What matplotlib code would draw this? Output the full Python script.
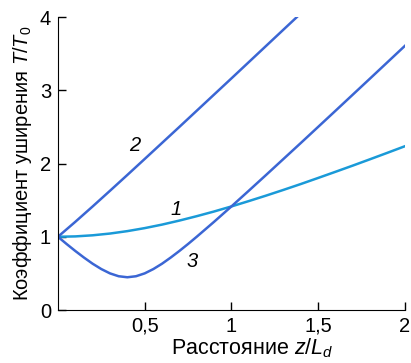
import matplotlib
matplotlib.use("Agg")
import matplotlib.pyplot as plt

plt.rcParams["font.family"] = ["Liberation Sans", "DejaVu Sans"]
plt.rcParams["mathtext.fontset"] = "custom"
plt.rcParams["mathtext.rm"] = "Liberation Sans"
plt.rcParams["mathtext.it"] = "Liberation Sans:italic"

# curve 1: no chirp
z1 = [0, 0.1, 0.2, 0.3, 0.4, 0.5, 0.6, 0.7, 0.8, 0.9, 1.0,
      1.1, 1.2, 1.3, 1.4, 1.5, 1.6, 1.7, 1.8, 1.9, 2.0]
t1 = [1.0, 1.005, 1.02, 1.044, 1.077, 1.118, 1.166, 1.221, 1.281, 1.345, 1.414,
      1.487, 1.562, 1.640, 1.720, 1.803, 1.887, 1.972, 2.059, 2.147, 2.236]

# curve 2: positive chirp
z2 = [0, 0.1, 0.2, 0.3, 0.4, 0.5, 0.7, 1.0, 1.2, 1.4]
t2 = [1.0, 1.204, 1.414, 1.628, 1.844, 2.062, 2.5, 3.162, 3.606, 4.05]

# curve 3: negative chirp
z3 = [0, 0.05, 0.1, 0.15, 0.2, 0.25, 0.3, 0.35, 0.4, 0.45, 0.5, 0.55, 0.6,
      0.65, 0.7, 0.75, 0.8, 0.9, 1.0, 1.1, 1.2, 1.3, 1.4, 1.5, 1.6, 1.7,
      1.8, 1.9, 2.0]
t3 = [1.0, 0.901, 0.806, 0.716, 0.632, 0.559, 0.5, 0.461, 0.447, 0.461, 0.5,
      0.559, 0.632, 0.716, 0.806, 0.901, 1.0, 1.204, 1.414, 1.628, 1.844,
      2.062, 2.28, 2.5, 2.72, 2.941, 3.162, 3.384, 3.606]

xticks = [0.5, 1, 1.5, 2]
xtick_labels = ["0,5", "1", "1,5", "2"]
yticks = [0, 1, 2, 3, 4]

fig = plt.figure(figsize=(4.11, 3.63), dpi=100)
ax = fig.add_axes([0.141, 0.146, 0.844, 0.807])

c_light = "#1a9ad8"
c_dark = "#3b66d4"
ax.plot(z1, t1, color=c_light, lw=1.8)
ax.plot(z2, t2, color=c_dark, lw=1.8)
ax.plot(z3, t3, color=c_dark, lw=1.8)

fs = 14.5
ax.text(0.445, 2.25, "2", fontsize=fs, style="italic", ha="center", va="center")
ax.text(0.68, 1.37, "1", fontsize=fs, style="italic", ha="center", va="center")
ax.text(0.775, 0.66, "3", fontsize=fs, style="italic", ha="center", va="center")

ax.set_xlim(0, 2)
ax.set_ylim(0, 4)
ax.set_xticks(xticks)
ax.set_xticklabels(xtick_labels)
ax.set_yticks(yticks)
ax.tick_params(direction="in", length=6, width=1, labelsize=fs, pad=5)
ax.spines["top"].set_visible(False)
ax.spines["right"].set_visible(False)

ax.set_xlabel(r"Расстояние $z/L_d$", fontsize=15.5, labelpad=0, x=0.56)
ax.set_ylabel(r"Коэффициент уширения $T/T_0$", fontsize=fs, labelpad=4)

fig.savefig("out.png", dpi=100)
